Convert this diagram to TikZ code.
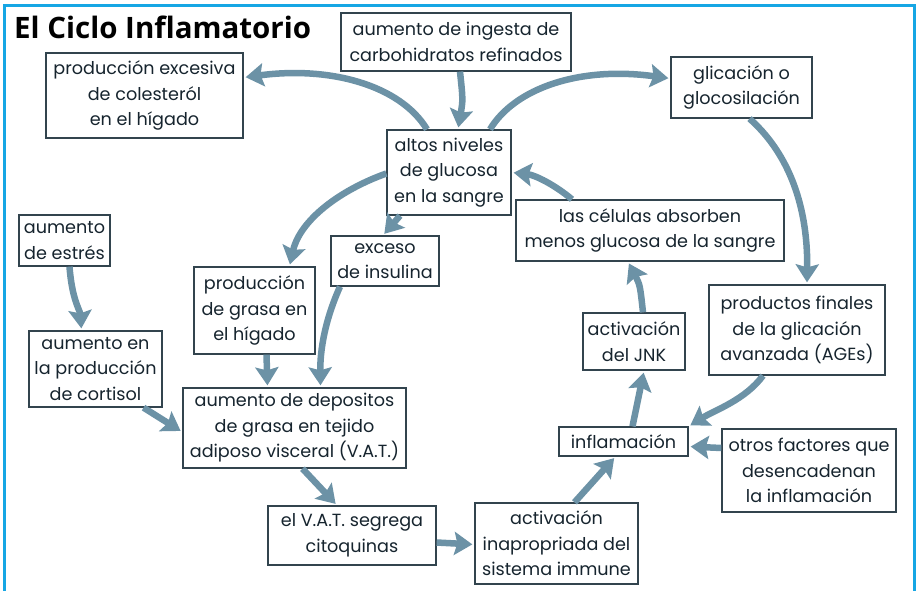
\documentclass[tikz,border=0pt]{standalone}
\usepackage{fontspec}
\setmainfont{Poppins}
\newfontfamily\titlefont{Open Sans}
\usetikzlibrary{arrows.meta}
\definecolor{framec}{RGB}{22,166,228}
\definecolor{arrc}{RGB}{108,146,166}
\definecolor{boxc}{RGB}{50,68,78}
\definecolor{txtc}{RGB}{22,36,46}
\tikzset{
  box/.style={draw=boxc, line width=1.3pt, fill=white, align=center, inner sep=0pt,
    text=txtc, font=\fontsize{17.6}{25.5}\selectfont},
  arr/.style={draw=arrc, line width=6.5pt,
    -{Stealth[length=18pt,width=23pt,inset=3pt]}, shorten >=2pt},
}
\begin{document}
\begin{tikzpicture}[x=1pt,y=-1pt]
\useasboundingbox (0,0) rectangle (916,591);
\draw[framec, line width=3pt] (4.5,591) -- (4.5,5.5) -- (914.5,5.5) -- (914.5,591);
\node[anchor=base west, font=\titlefont\bfseries\fontsize{29.5}{32}\selectfont, inner sep=0pt] (title) at (14,39) {El Ciclo Inflamatorio};

\node[box, minimum width=230pt, minimum height=58pt] (carb) at (456,42) {aumento de ingesta de\\carbohidratos refinados};
\node[box, minimum width=197pt, minimum height=85pt] (col) at (144.5,95.5) {producción excesiva\\de colesteról\\en el hígado};
\node[box, minimum width=141pt, minimum height=61pt] (glic) at (741.5,87.5) {glicación o\\glocosilación};
\node[box, minimum width=124pt, minimum height=85pt] (altos) at (449,172.5) {altos niveles\\de glucosa\\en la sangre};
\node[box, minimum width=268pt, minimum height=61pt] (cel) at (650,230.5) {las células absorben\\menos glucosa de la sangre};
\node[box, minimum width=91pt, minimum height=51pt] (estres) at (64.5,240.5) {aumento\\de estrés};
\node[box, minimum width=121pt, minimum height=87pt] (grasa) at (254.5,310.5) {producción\\de grasa en\\el hígado};
\node[box, minimum width=108pt, minimum height=50pt] (insul) at (385,261) {exceso\\de insulina};
\node[box, minimum width=133pt, minimum height=76pt] (cort) at (95.5,369) {aumento en\\la producción\\de cortisol};
\node[box, minimum width=223pt, minimum height=80pt] (dep) at (294.5,428) {aumento de depositos\\de grasa en tejido\\adiposo visceral (V.A.T.)};
\node[box, minimum width=168pt, minimum height=59pt] (vat) at (352,535.5) {el V.A.T. segrega\\citoquinas};
\node[box, minimum width=163pt, minimum height=81pt] (imm) at (556.5,543.5) {activación\\inapropriada del\\sistema immune};
\node[box, minimum width=129pt, minimum height=29pt] (infl) at (623.5,441.5) {inflamación};
\node[box, minimum width=174pt, minimum height=83pt] (otros) at (809,470.5) {otros factores que\\desencadenan\\la inflamación};
\node[box, minimum width=102pt, minimum height=57pt] (jnk) at (634,341.5) {activación\\del JNK};
\node[box, minimum width=176pt, minimum height=90pt] (ages) at (797,330) {productos finales\\de la glicación\\avanzada (AGEs)};

% arrows
\draw[arr] ([xshift=4pt]carb.south) .. controls (463,100) .. ([xshift=9pt]altos.north);
\draw[arr] ([xshift=-22pt]altos.north) .. controls (400,85) and (330,66) .. ([yshift=18pt]col.east);
\draw[arr] ([xshift=41pt]altos.north) .. controls (515,88) and (580,66) .. ([yshift=9pt]glic.west);
\draw[arr] ([xshift=8pt]glic.south) .. controls (785,150) and (808,200) .. ([xshift=10pt]ages.north);
\draw[arr] ([xshift=-34pt]ages.south) .. controls (745,400) and (715,410) .. (infl.north east);
\draw[arr] ([yshift=22.5pt]otros.west) -- ([yshift=-5pt]infl.east);
\draw[arr] ([xshift=9pt]infl.north) -- ([xshift=10pt]jnk.south);
\draw[arr] ([xshift=9pt]jnk.north) .. controls (640,285) .. ([xshift=-22pt]cel.south);
\draw[arr] ([xshift=-78pt]cel.north) .. controls (555,185) and (535,175) .. (altos.east);
\draw[arr] ([yshift=-1pt]altos.west) .. controls (340,190) and (300,220) .. ([xshift=35pt]grasa.north);
\draw[arr] ([xshift=-49pt]altos.south) -- ([xshift=-2pt]insul.north);
\draw[arr] ([xshift=-45pt]insul.south) .. controls (325,320) and (320,350) .. ([xshift=26pt]dep.north);
\draw[arr] ([xshift=12pt]grasa.south) -- ([xshift=-27pt]dep.north);
\draw[arr] ([xshift=5pt]estres.south) .. controls (72,300) and (80,310) .. ([xshift=-14pt]cort.north);
\draw[arr] ([xshift=48pt]cort.south) -- ([yshift=-4pt]dep.west);
\draw[arr] ([xshift=8pt]dep.south) -- ([xshift=-15pt]vat.north);
\draw[arr] ([yshift=-7pt]vat.east) -- ([yshift=-1pt]imm.west);
\draw[arr] ([xshift=18pt]imm.north) -- ([xshift=-8pt]infl.south);
\end{tikzpicture}
\end{document}
